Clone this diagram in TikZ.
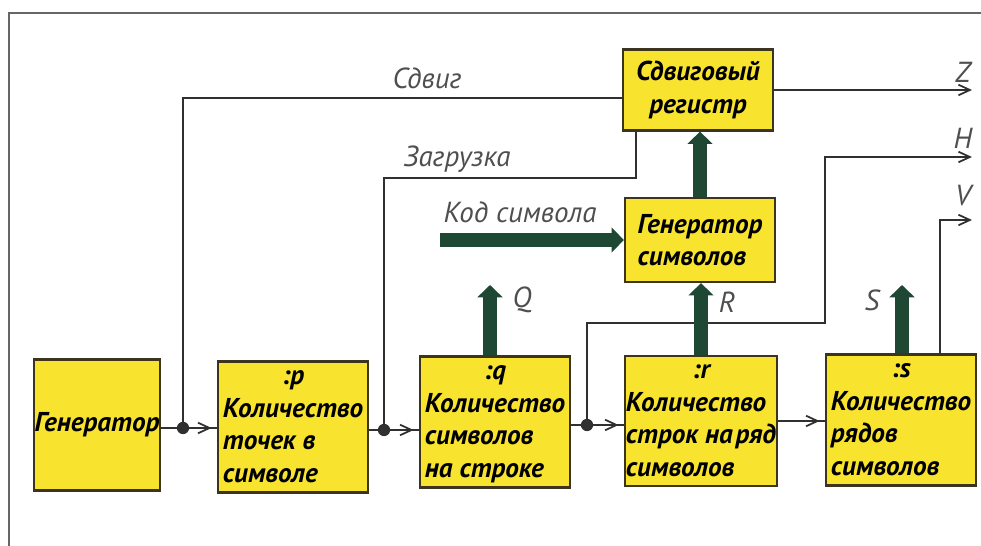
\documentclass[tikz,border=0pt]{standalone}
\usepackage{fontspec}
\setmainfont{PT Sans}
\usetikzlibrary{arrows.meta,positioning,calc}
\definecolor{panel}{RGB}{248,228,46}
\definecolor{edge}{RGB}{60,52,28}
\definecolor{bus}{RGB}{30,72,52}
\definecolor{wire}{RGB}{48,48,48}

\begin{document}
\begin{tikzpicture}[
  x=0.02cm, y=-0.02cm,
  every node/.style={font=\itshape\fontsize{16.5}{19}\selectfont},
  block/.style={draw=edge, fill=panel, line width=1.3pt, align=center,
                minimum width=3cm, minimum height=2.62cm, inner xsep=0.5pt, inner ysep=0pt,
                font=\bfseries\itshape\fontsize{15.5}{18.5}\selectfont},
  wire/.style={draw=wire, line width=1pt},
  feed/.style={wire, postaction={draw=wire, -{Straight Barb[length=6.5pt,width=6pt]}, shorten >=3pt}},
  busarrow/.style={draw=bus, line width=7.5pt, -{Triangle[length=7pt,width=14pt]}},
  dot/.style={circle, fill=wire, inner sep=0pt, minimum size=7pt},
  lbl/.style={text=wire!85},
  >={Straight Barb[length=6.5pt,width=6pt]}
]
\useasboundingbox (0,0) rectangle (981,546);

% page edge
\draw[gray!80!black, line width=1.2pt] (9,546) -- (9,13) -- (981,13);

% counters
\node[block, minimum width=2.5cm] (gen) at (97,425) {Генератор};
\node[block] (cp) at (293,427)
  {\begin{tabular}{@{}l@{}}\multicolumn{1}{@{}c@{}}{:p}\\Количество\\точек в\\символе\end{tabular}};
\node[block] (cq) at (495,422)
  {\begin{tabular}{@{}l@{}}\multicolumn{1}{@{}c@{}}{:q}\\Количество\\символов\\на строке\end{tabular}};
\node[block, minimum height=2.5cm] (cr) at (701,421)
  {\begin{tabular}{@{}l@{}}\multicolumn{1}{@{}c@{}}{:r}\\Количество\\строк на\hspace{0.1em}ряд\\символов\end{tabular}};
\node[block] (cs) at (901,420)
  {\begin{tabular}{@{}l@{}}\multicolumn{1}{@{}c@{}}{:s}\\Количество\\рядов\\символов\end{tabular}};

% upper blocks
\node[block, minimum height=1.62cm] (reg) at (698,90) {Сдвиговый\\регистр};
\node[block, minimum height=1.68cm, align=left] (sym) at (700,240) {Генератор\\символов};

% junctions
\coordinate (j1) at (183,428);
\coordinate (j2) at (384,430);
\coordinate (j3) at (587,425);
\node[dot] (d1) at (j1) {};
\node[dot] (d2) at (j2) {};
\node[dot] (d3) at (j3) {};

\draw[wire] (gen.east |- j1) -- (j1);
\draw[feed] (j1) -- (cp.west |- j1);
\draw[wire] (cp.east |- j2) -- (j2);
\draw[feed] (j2) -- (cq.west |- j2);
\draw[wire] (cq.east |- j3) -- (j3);
\draw[feed] (j3) -- (cr.west |- j3);
\draw[feed] (cr.east) -- (cr.east -| cs.west);

% control lines
\coordinate (sh) at (183,98);
\draw[wire] (j1) -- (sh) -- (sh -| reg.west);
\coordinate (ld) at (384,178);
\draw[wire] ([xshift=0.28cm]reg.south west) |- (ld) -- (j2);

% outputs
\coordinate (zo) at (972,90);
\draw[wire, ->] (reg.east) -- (reg.east -| zo);
\coordinate (hb) at (825,323);
\coordinate (ho) at (972,157);
\draw[wire, ->] (j3) |- (hb) |- (ho);
\coordinate (vb) at (940,220);
\coordinate (vo) at (972,220);
\draw[wire, ->] (vb |- cs.north) -- (vb) -- (vo);

% wide paths
\coordinate (kd) at (440,240);
\draw[busarrow] (kd) -- (sym.west);
\draw[busarrow] (sym.north) -- (sym.north |- reg.south);
\draw[busarrow] (cr.north) -- (cr.north |- sym.south);
\coordinate (qt) at (490,285);
\draw[busarrow] (qt |- cq.north) -- (qt);
\coordinate (st) at (902,285);
\draw[busarrow] (st |- cs.north) -- (st);

% labels
\node[lbl] (lsh) at (427,78) {Сдвиг};
\node[lbl] (lld) at (457,159) {Загрузка};
\node[lbl] (lkd) at (520,212) {Код символа};
\node[lbl] (lq) at (522,300) {Q};
\node[lbl] (lr) at (727,302) {R};
\node[lbl] (ls) at (872,300) {S};
\node[lbl] (lz) at (963,72) {Z};
\node[lbl] (lh) at (963,138) {H};
\node[lbl] (lv) at (963,196) {V};
\end{tikzpicture}
\end{document}
